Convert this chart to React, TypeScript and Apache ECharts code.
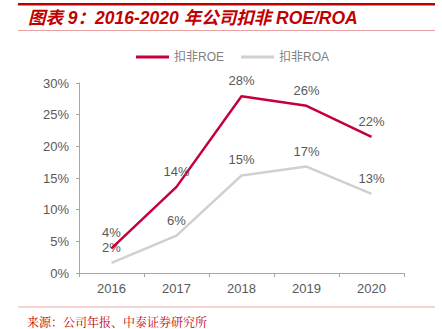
import React, { useEffect, useRef } from "react";
import * as echarts from "echarts";

const years = ["2016", "2017", "2018", "2019", "2020"];
const roe = [3.9, 13.6, 27.9, 26.4, 21.5];
const roa = [1.6, 5.9, 15.4, 16.8, 12.5];
const yTicks = [0, 5, 10, 15, 20, 25, 30];

export default function App() {
  const ref = useRef<HTMLDivElement>(null);
  useEffect(() => {
    const chart = echarts.init(ref.current!, undefined, { renderer: "svg" });
    const labelStyle = {
      show: true,
      position: "top" as const,
      distance: 9,
      color: "#595959",
      fontSize: 13,
      fontFamily: "Liberation Sans, Arial, sans-serif",
      formatter: (p: any) => Math.round(p.value) + "%",
    };
    chart.setOption({
      animation: false,
      backgroundColor: "#fff",
      grid: { left: 79, top: 83, right: 38, bottom: 56 },
      legend: {
        top: 46,
        left: 131,
        itemWidth: 33,
        itemHeight: 3,
        itemGap: 17,
        itemTextGap: 3,
        icon: "rect",
        textStyle: { color: "#7f7f7f", fontSize: 12, fontFamily: "Liberation Sans, Noto Sans CJK SC, sans-serif" },
        data: ["扣非ROE", "扣非ROA"],
      },
      xAxis: {
        type: "category",
        data: years,
        boundaryGap: true,
        axisLine: { lineStyle: { color: "#a6a6a6", width: 1 } },
        axisTick: { show: true, length: 4, lineStyle: { color: "#a6a6a6" } },
        axisLabel: { color: "#595959", fontSize: 13, margin: 9, fontFamily: "Liberation Sans, Arial, sans-serif" },
      },
      yAxis: {
        type: "value",
        min: yTicks[0],
        max: yTicks[yTicks.length - 1],
        interval: 5,
        splitLine: { show: false },
        axisLine: { show: true, lineStyle: { color: "#a6a6a6", width: 1 } },
        axisTick: { show: true, length: 3, lineStyle: { color: "#a6a6a6" } },
        axisLabel: { color: "#595959", fontSize: 13, margin: 10, formatter: "{value}%", fontFamily: "Liberation Sans, Arial, sans-serif" },
      },
      series: [
        {
          name: "扣非ROE",
          type: "line",
          data: roe,
          symbol: "circle",
          symbolSize: 0.1,
          showSymbol: true,
          lineStyle: { color: "#C5003A", width: 2.5 },
          itemStyle: { color: "#C5003A" },
          label: labelStyle,
          z: 3,
        },
        {
          name: "扣非ROA",
          type: "line",
          data: roa,
          symbol: "circle",
          symbolSize: 0.1,
          showSymbol: true,
          lineStyle: { color: "#d0d0d0", width: 2.5 },
          itemStyle: { color: "#d0d0d0" },
          label: labelStyle,
          z: 2,
        },
      ],
      graphic: [
        { type: "rect", shape: { x: 18, y: 3, width: 417, height: 2.5 }, style: { fill: "#C00000" } },
        { type: "line", shape: { x1: 18, y1: 30.5, x2: 435, y2: 30.5 }, style: { stroke: "#E8A0A0", lineWidth: 1 } },
        {
          type: "text",
          x: 28,
          y: 9,
          style: {
            text: "图表 9：2016-2020 年公司扣非 ROE/ROA",
            fill: "#C00000",
            font: "italic bold 17.5px 'Liberation Sans', 'Noto Sans CJK SC', sans-serif",
          },
        },
        { type: "line", shape: { x1: 18, y1: 307, x2: 435, y2: 307 }, style: { stroke: "#F2C4C4", lineWidth: 1.5 } },
        {
          type: "text",
          x: 27,
          y: 315,
          style: {
            text: "来源：公司年报、中泰证券研究所",
            fill: "#C00000",
            font: "12px 'Noto Serif CJK SC', 'Noto Sans CJK SC', serif",
          },
        },
      ],
    });
    return () => chart.dispose();
  }, []);
  return <div ref={ref} style={{ width: 442, height: 329, position: "absolute", left: 0, top: 0 }} />;
}
